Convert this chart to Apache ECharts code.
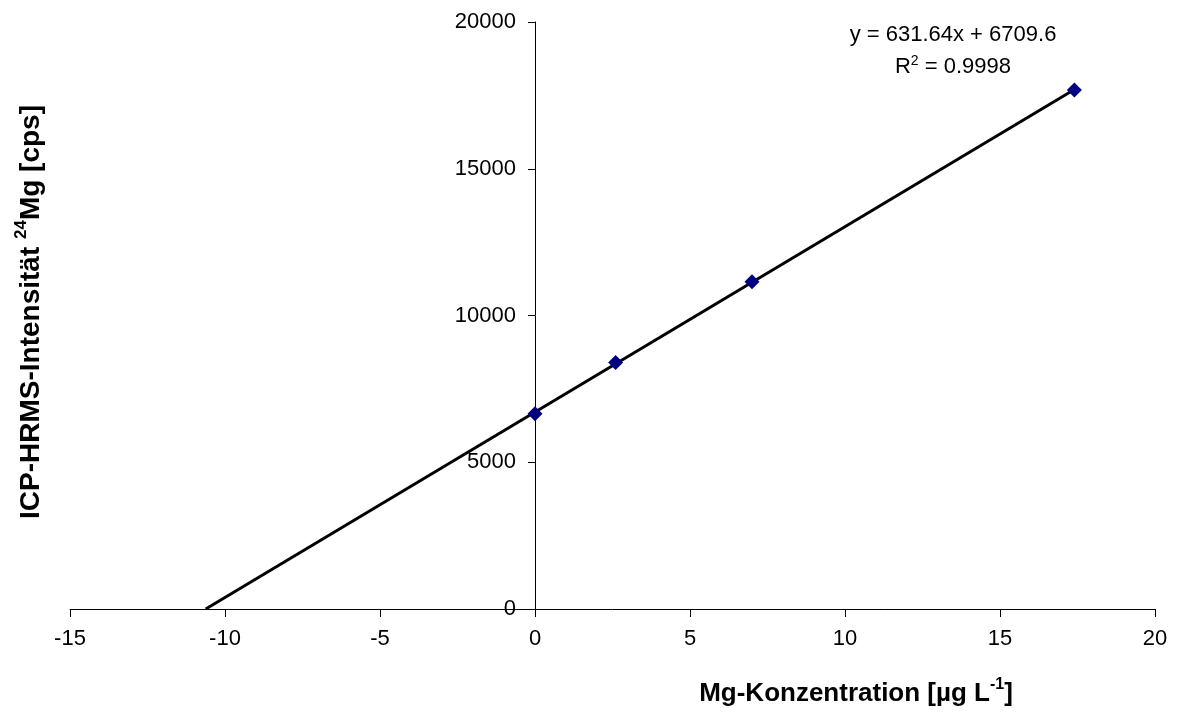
<!DOCTYPE html>
<html>
<head>
<meta charset="utf-8">
<script src="https://cdn.jsdelivr.net/npm/echarts@6/dist/echarts.min.js"></script>
<style>
html,body{margin:0;padding:0;background:#fff;}
#chart{width:1177px;height:713px;}
</style>
</head>
<body>
<div id="chart"></div>
<script>
// Data
const concentrations = [0, 2.6, 7.0, 17.4];
const intensities = [6650, 8400, 11150, 17680];
const slope = 631.64;
const intercept = 6709.6;
const rSquared = 0.9998;
const xTicks = [-15, -10, -5, 0, 5, 10, 15, 20];
const yTicks = [0, 5000, 10000, 15000, 20000];

const FONT = '"Liberation Sans", Arial, sans-serif';
const W = 1177;
const chart = echarts.init(document.getElementById('chart'), null, {renderer: 'canvas'});

const xMin = xTicks[0], xMax = xTicks[xTicks.length - 1];
const xStart = -intercept / slope;
const xEnd = Math.max(...concentrations);
const trend = [[xStart, slope * xStart + intercept], [xEnd, slope * xEnd + intercept]];

const GRID_LEFT = 70, GRID_RIGHT = 22;
// y axis crosses the x axis at x = 0
const yAxisShift = (W - GRID_LEFT - GRID_RIGHT) * (0 - xMin) / (xMax - xMin);

chart.setOption({
  animation: false,
  backgroundColor: '#fff',
  grid: {left: GRID_LEFT, right: GRID_RIGHT, top: 22, bottom: 104, containLabel: false, outerBoundsMode: 'none'},
  xAxis: {
    type: 'value', min: xMin, max: xMax, interval: 5,
    splitLine: {show: false},
    axisLine: {onZero: true, lineStyle: {color: '#000', width: 1}},
    axisTick: {show: true, inside: false, length: 8, lineStyle: {color: '#000'}},
    axisLabel: {color: '#000', fontFamily: FONT, fontSize: 22, margin: 19}
  },
  yAxis: {
    type: 'value', min: yTicks[0], max: yTicks[yTicks.length - 1], interval: 5000,
    offset: -yAxisShift,
    splitLine: {show: false},
    axisLine: {onZero: false, lineStyle: {color: '#000', width: 1}},
    axisTick: {show: true, inside: false, length: 7, lineStyle: {color: '#000'}},
    axisLabel: {color: '#000', fontFamily: FONT, fontSize: 22, margin: 19, formatter: v => String(v)}
  },
  series: [
    {
      type: 'line', data: trend, symbol: 'none', silent: true,
      lineStyle: {color: '#000', width: 3}, z: 2
    },
    {
      type: 'scatter', data: concentrations.map((c, i) => [c, intensities[i]]),
      symbol: 'diamond', symbolSize: [15, 15],
      itemStyle: {color: '#000080', opacity: 1}, z: 3
    }
  ],
  graphic: [
    {
      type: 'text',
      style: {
        text: 'y = ' + slope.toFixed(2) + 'x + ' + intercept.toFixed(1),
        font: '22px ' + FONT, fill: '#000', x: 953, y: 35, align: 'center', verticalAlign: 'middle'
      }
    },
    {
      type: 'text',
      style: {
        text: '{n|R}{s|2}{n| = ' + rSquared.toFixed(4) + '}',
        x: 953, y: 54, align: 'center', verticalAlign: 'top', fill: '#000',
        rich: {
          n: {font: '22px ' + FONT, fill: '#000', lineHeight: 24, verticalAlign: 'bottom'},
          s: {font: '14px ' + FONT, fill: '#000', lineHeight: 24, verticalAlign: 'top', padding: [0, 0, 10, 0]}
        }
      }
    },
    {
      type: 'text',
      style: {
        text: '{n|Mg-Konzentration [µg L}{s|-1}{n|]}',
        x: 856, y: 677, align: 'center', verticalAlign: 'top', fill: '#000',
        rich: {
          n: {font: 'bold 26px ' + FONT, fill: '#000', lineHeight: 30, verticalAlign: 'bottom'},
          s: {font: 'bold 16px ' + FONT, fill: '#000', lineHeight: 30, verticalAlign: 'top', padding: [0, 0, 12, 0]}
        }
      }
    },
    {
      type: 'text', x: 29, y: 312, rotation: Math.PI / 2,
      style: {
        text: '{n|ICP-HRMS-Intensität }{s|24}{n|Mg [cps]}',
        x: 0, y: 0, align: 'center', verticalAlign: 'middle', fill: '#000',
        rich: {
          n: {font: 'bold 28px ' + FONT, fill: '#000', lineHeight: 32, verticalAlign: 'bottom'},
          s: {font: 'bold 17px ' + FONT, fill: '#000', lineHeight: 32, verticalAlign: 'top', padding: [0, 0, 13, 0]}
        }
      }
    }
  ]
});
</script>
</body>
</html>
